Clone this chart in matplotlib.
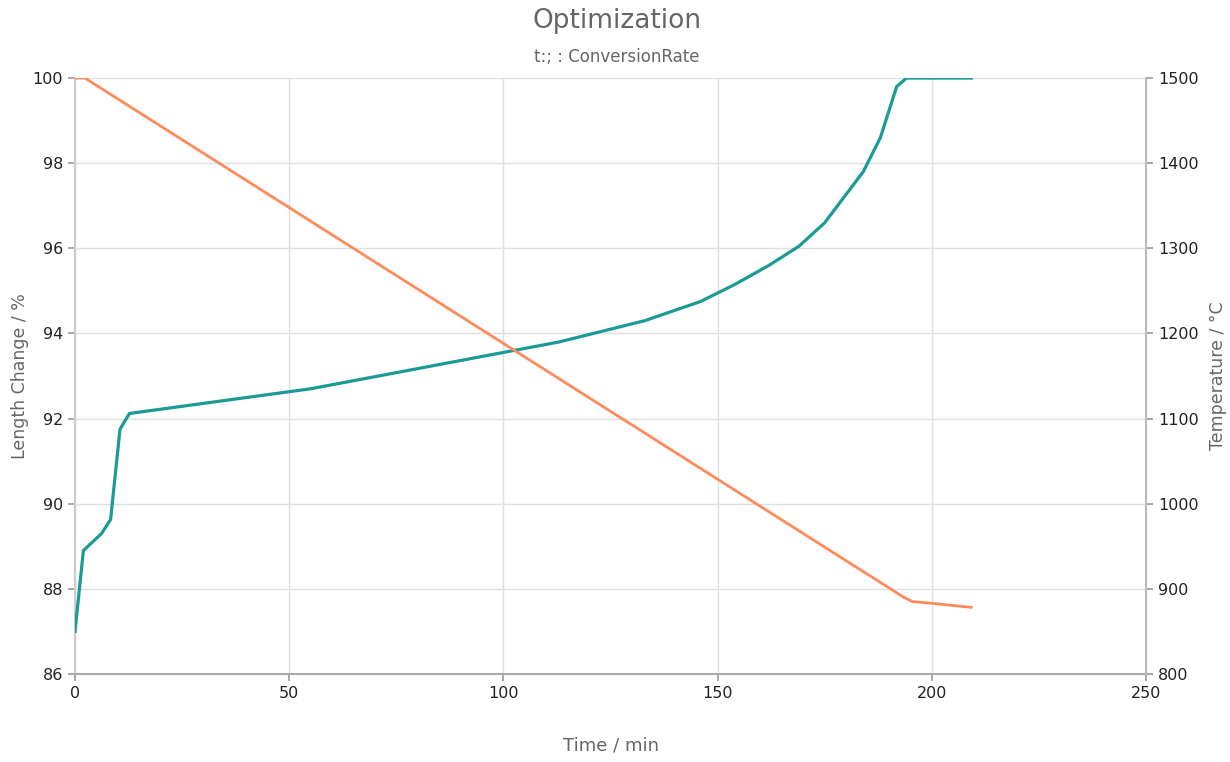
import matplotlib
matplotlib.use("Agg")
import matplotlib.pyplot as plt

# Datos
tiempo_largo = [0, 1.95, 6.2, 8.3, 10.5, 12.7, 55, 113, 133, 146, 154, 162, 169, 175, 184, 188, 191.8, 194.1, 209.2]
cambio_largo = [87.0, 88.9, 89.3, 89.63, 91.75, 92.12, 92.7, 93.8, 94.3, 94.75, 95.15, 95.6, 96.05, 96.6, 97.8, 98.6, 99.8, 100.0, 100.0]

tiempo_temp = [0, 2.3, 193.5, 195.5, 199, 209.2]
temperatura = [1500, 1500, 890, 885, 883.5, 878.3]

color_largo = "#1b9a96"
color_temp = "#ff8a5c"
gris = "#666666"

fig = plt.figure(figsize=(12.3, 7.62), dpi=100)
ax = fig.add_axes([0.061, 0.1155, 0.8707, 0.7821])
ax2 = ax.twinx()

ax.plot(tiempo_largo, cambio_largo, color=color_largo, lw=2.3, zorder=3)
ax2.plot(tiempo_temp, temperatura, color=color_temp, lw=2.0, zorder=3)

ax.set_xlim(0, 250)
ax.set_ylim(86, 100)
ax2.set_ylim(800, 1500)
ax.set_xticks(range(0, 251, 50))
ax.set_yticks(range(86, 101, 2))
ax2.set_yticks(range(800, 1501, 100))

ax.grid(True, color="#e0e0e0", lw=1.0)
ax.set_axisbelow(True)

for a in (ax, ax2):
    a.spines["top"].set_visible(False)
    a.tick_params(colors="#999999", labelcolor="#222222", labelsize=11.5, length=5, width=1.2)
ax.spines["left"].set_color("#cccccc")
ax.spines["left"].set_linewidth(1.5)
ax.spines["right"].set_visible(False)
ax.spines["bottom"].set_color("#aaaaaa")
ax.spines["bottom"].set_linewidth(1.5)
ax2.spines["left"].set_visible(False)
ax2.spines["bottom"].set_visible(False)
ax2.spines["right"].set_color("#bbbbbb")
ax2.spines["right"].set_linewidth(1.5)

ax.set_xlabel("Time / min", color=gris, fontsize=13, labelpad=26)
ax.set_ylabel("Length Change / %", color=gris, fontsize=12.5, va="center")
ax.yaxis.set_label_coords(-0.051, 0.5)
ax2.set_ylabel("Temperature / °C", color=gris, fontsize=12.5, va="center")
ax2.yaxis.set_label_coords(1.067, 0.5)

fig.text(0.5015, 0.972, "Optimization", ha="center", va="center", color=gris, fontsize=19)
fig.text(0.5015, 0.925, "t:; : ConversionRate", ha="center", va="center", color=gris, fontsize=12)

fig.savefig("out.png", dpi=100)
